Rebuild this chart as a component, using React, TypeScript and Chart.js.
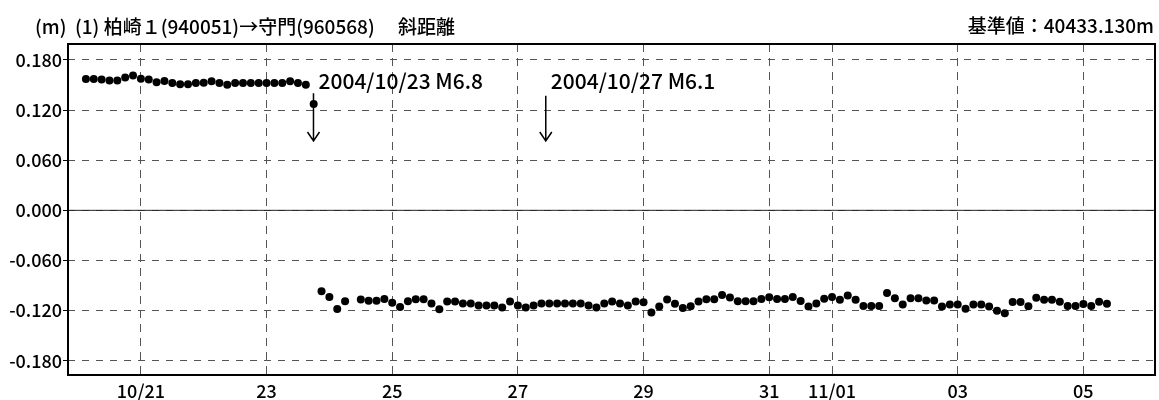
import { useEffect, useRef } from "react";
import { Chart, registerables } from "chart.js";

Chart.register(...registerables);

const FONT = '"Noto Sans CJK JP", "Noto Sans", sans-serif';

const TITLE_LEFT = "(m)  (1) 柏崎１(940051)→守門(960568)　 斜距離";
const TITLE_RIGHT = "基準値：40433.130m";

// x axis: day of October 2004 (11/01 = 32)
const X_MIN = 19.84;
const X_MAX = 37.14;
const X_TICK_DAYS = [21, 23, 25, 27, 29, 31, 32, 34, 36];
const X_TICK_LABELS = ["10/21", "23", "25", "27", "29", "31", "11/01", "03", "05"];

const Y_MIN = -0.197;
const Y_MAX = 0.199;
const Y_TICKS = [-0.18, -0.12, -0.06, 0, 0.06, 0.12, 0.18];

// 3-hourly solutions
const STEP_DAYS = 0.125;
const PRE_START = 20.125; // 10/20 03:00
const POST_START = 23.875; // 10/23 21:00

const preValues = [
  0.157, 0.157, 0.1566, 0.1554, 0.1554, 0.159, 0.1614, 0.1574, 0.1566, 0.1531,
  0.1547, 0.1523, 0.1507, 0.1507, 0.1523, 0.1527, 0.1543, 0.1523, 0.1503, 0.1523,
  0.1523, 0.1523, 0.1523, 0.1523, 0.1523, 0.1523, 0.1543, 0.1523, 0.1503, 0.1273,
];

const postValues = [
  -0.0968,
  -0.1036, -0.118, -0.1088, null, -0.1068, -0.1083, -0.1083, -0.106,
  -0.1107, -0.1155, -0.1088, -0.1064, -0.1064, -0.1115, -0.1183, -0.1091,
  -0.1091, -0.1115, -0.1115, -0.1139, -0.1139, -0.1139, -0.1163, -0.1091,
  -0.1139, -0.1163, -0.1139, -0.1115, -0.1115, -0.1115, -0.1115, -0.1115,
  -0.1115, -0.1139, -0.1163, -0.1115, -0.1091, -0.1115, -0.1139, -0.1091,
  -0.11, -0.1222, -0.115, -0.1068, -0.1119, -0.1169, -0.1148, -0.1092,
  -0.1065, -0.1065, -0.1014, -0.1043, -0.1089, -0.1089, -0.1089, -0.1062,
  -0.1041, -0.1061, -0.1061, -0.1038, -0.1086, -0.1149, -0.1114, -0.1059,
  -0.1036, -0.1071, -0.1018, -0.1069, -0.1145, -0.1145, -0.1145, -0.099,
  -0.1053, -0.1126, -0.1053, -0.1053, -0.1078, -0.1078, -0.115, -0.1127,
  -0.1127, -0.1178, -0.1127, -0.1127, -0.1151, -0.1201, -0.1231, -0.1098,
  -0.1098, -0.1148, -0.1045, -0.1071, -0.1071, -0.1095, -0.1145, -0.1145,
  -0.112, -0.1144, -0.1093, -0.1119,
];

// earthquakes
const quakeDays = [23.747, 27.444];
const quakeLabels = ["2004/10/23 M6.8", "2004/10/27 M6.1"];
const arrowTop = [0.14, 0.137];
const arrowBottom = [0.083, 0.083];
const labelY = [0.155, 0.155];

const toPoints = (start: number, vals: (number | null)[]) =>
  vals.map((v, i) => ({ x: start + i * STEP_DAYS, y: v }));

const decorPlugin = {
  id: "decor",
  beforeDatasetsDraw(chart: any) {
    const { ctx, chartArea, scales } = chart;
    const y0 = scales.y.getPixelForValue(0);
    ctx.save();
    ctx.strokeStyle = "#222";
    ctx.lineWidth = 1;
    ctx.setLineDash([]);
    ctx.beginPath();
    ctx.moveTo(chartArea.left, y0);
    ctx.lineTo(chartArea.right, y0);
    ctx.stroke();
    ctx.restore();
  },
  afterDatasetsDraw(chart: any) {
    const { ctx, chartArea, scales } = chart;
    ctx.save();
    ctx.setLineDash([]);
    ctx.strokeStyle = "#000";
    ctx.lineWidth = 2;
    ctx.strokeRect(chartArea.left, chartArea.top, chartArea.right - chartArea.left, chartArea.bottom - chartArea.top);

    quakeDays.forEach((d, i) => {
      const x = scales.x.getPixelForValue(d);
      const y1 = scales.y.getPixelForValue(arrowTop[i]);
      const y2 = scales.y.getPixelForValue(arrowBottom[i]);
      ctx.lineWidth = 1.5;
      ctx.beginPath();
      ctx.moveTo(x, y1);
      ctx.lineTo(x, y2);
      ctx.moveTo(x - 6, y2 - 9);
      ctx.lineTo(x, y2);
      ctx.lineTo(x + 6, y2 - 9);
      ctx.stroke();
      ctx.fillStyle = "#000";
      ctx.font = `500 21px ${FONT}`;
      ctx.textAlign = "left";
      ctx.textBaseline = "middle";
      ctx.fillText(quakeLabels[i], x + 5, scales.y.getPixelForValue(labelY[i]));
    });

    ctx.font = `500 19px ${FONT}`;
    ctx.fillStyle = "#000";
    ctx.textBaseline = "middle";
    ctx.textAlign = "left";
    ctx.fillText(TITLE_LEFT, 35, 27);
    ctx.textAlign = "right";
    ctx.fillText(TITLE_RIGHT, 1154, 26);
    ctx.restore();
  },
};

export default function App() {
  const ref = useRef<HTMLCanvasElement>(null);
  useEffect(() => {
    if (!ref.current) return;
    const chart = new Chart(ref.current, {
      type: "scatter",
      data: {
        datasets: [
          {
            data: [...toPoints(PRE_START, preValues), ...toPoints(POST_START, postValues)] as any,
            pointRadius: 4,
            pointHoverRadius: 4,
            pointBorderWidth: 0,
            backgroundColor: "#000",
            borderColor: "#000",
            showLine: false,
          },
        ],
      },
      options: {
        animation: false,
        responsive: false,
        events: [],
        layout: { padding: { top: 44, right: 3, left: 0, bottom: 0 } },
        plugins: { legend: { display: false }, tooltip: { enabled: false }, title: { display: false } },
        scales: {
          x: {
            type: "linear",
            min: X_MIN,
            max: X_MAX,
            afterBuildTicks: (s: any) => {
              s.ticks = X_TICK_DAYS.map((v) => ({ value: v }));
            },
            afterFit: (s: any) => {
              s.height = 25;
            },
            ticks: {
              autoSkip: false,
              maxRotation: 0,
              color: "#000",
              padding: 5,
              font: { family: FONT, size: 18, weight: "500" },
              callback: (_v: any, i: number) => X_TICK_LABELS[i],
            },
            grid: { color: "#555", lineWidth: 1, drawTicks: false },
            border: { display: false, dash: [8, 6] },
          },
          y: {
            min: Y_MIN,
            max: Y_MAX,
            afterBuildTicks: (s: any) => {
              s.ticks = Y_TICKS.map((v) => ({ value: v }));
            },
            afterFit: (s: any) => {
              s.width = 68;
            },
            ticks: {
              color: "#000",
              padding: 1,
              font: { family: FONT, size: 18, weight: "500" },
              callback: (v: any) => Number(v).toFixed(3),
            },
            grid: { color: "#555", lineWidth: 1, tickLength: 5, tickColor: "#000", tickBorderDash: [] },
            border: { display: false, dash: [7, 7] },
          },
        },
      },
      plugins: [decorPlugin],
    });
    return () => chart.destroy();
  }, []);
  return (
    <canvas
      ref={ref}
      width={1159}
      height={400}
      style={{ position: "absolute", left: 0, top: 0, width: 1159, height: 400, display: "block" }}
    />
  );
}
